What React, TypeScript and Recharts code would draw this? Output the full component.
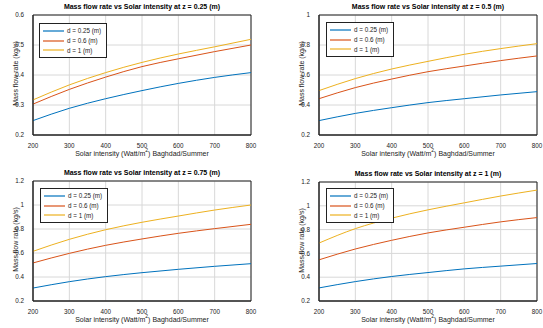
import React from 'react';
import { LineChart, Line, XAxis, YAxis, CartesianGrid, ReferenceArea } from 'recharts';

const solar = [200, 300, 400, 500, 600, 700, 800];
const xTicks = [200, 300, 400, 500, 600, 700, 800];

// z = 0.25 m
const z025d025 = [0.248, 0.289, 0.321, 0.348, 0.372, 0.392, 0.408];
const z025d06 = [0.303, 0.352, 0.393, 0.428, 0.454, 0.478, 0.5];
const z025d1 = [0.317, 0.367, 0.408, 0.442, 0.47, 0.494, 0.519];

// z = 0.5 m
const z05d025 = [0.296, 0.344, 0.382, 0.416, 0.442, 0.467, 0.489];
const z05d06 = [0.442, 0.516, 0.573, 0.622, 0.66, 0.696, 0.727];
const z05d1 = [0.496, 0.576, 0.64, 0.691, 0.738, 0.776, 0.809];

// z = 0.75 m
const z075d025 = [0.308, 0.361, 0.403, 0.436, 0.464, 0.489, 0.511];
const z075d06 = [0.517, 0.597, 0.664, 0.717, 0.764, 0.803, 0.839];
const z075d1 = [0.614, 0.714, 0.794, 0.856, 0.908, 0.958, 1.0];

// z = 1 m
const z1d025 = [0.31, 0.363, 0.406, 0.439, 0.47, 0.493, 0.515];
const z1d06 = [0.546, 0.637, 0.71, 0.772, 0.82, 0.865, 0.901];
const z1d1 = [0.687, 0.808, 0.896, 0.966, 1.025, 1.082, 1.132];

const seriesNames = ['d = 0.25 (m)', 'd = 0.6 (m)', 'd = 1 (m)'];
const colors = ['#0072BD', '#D95319', '#EDB120'];

const FONT = 'Arial, "Liberation Sans", Helvetica, sans-serif';

const buildRows = (a: number[], b: number[], c: number[]) =>
  solar.map((s, i) => ({ solar: s, a: a[i], b: b[i], c: c[i] }));

// legend drawn over the plot, MATLAB style box
const LegendBox = ({ left, top }: { left: number; top: number }) => (
  <div
    style={{
      position: 'absolute', left, top, border: '1px solid #222', background: '#fff',
      padding: '2px 5px 2px 3px', fontFamily: FONT, fontSize: 6.3, color: '#222',
    }}
  >
    {seriesNames.map((name, i) => (
      <div key={name} style={{ display: 'flex', alignItems: 'center', height: 9.8 }}>
        <svg width={21} height={4} style={{ marginRight: 3 }}>
          <line x1={0} y1={2} x2={21} y2={2} stroke={colors[i]} strokeWidth={1.2} />
        </svg>
        <span>{name}</span>
      </div>
    ))}
  </div>
);

interface PanelProps {
  left: number;
  top: number;
  width: number;
  plotLeft: number;
  plotRight: number;
  plotTop: number;
  plotBottom: number;
  title: string;
  data: any[];
  yDomain: [number, number];
  yTicks: number[];
  legendLeft: number;
  legendTop: number;
}

const Panel: React.FC<PanelProps> = (p) => {
  const height = 164;
  const plotW = p.plotRight - p.plotLeft;
  const cx = p.plotLeft + plotW / 2;
  const cy = (p.plotTop + p.plotBottom) / 2;
  return (
    <div style={{ position: 'absolute', left: p.left, top: p.top, width: p.width, height }}>
      <LineChart
        width={p.width}
        height={height}
        data={p.data}
        margin={{ top: p.plotTop, right: p.width - p.plotRight, bottom: height - p.plotBottom - 12, left: p.plotLeft - 33 }}
      >
        <CartesianGrid stroke="#d8d8d8" strokeWidth={1} />
        <XAxis
          dataKey="solar"
          type="number"
          domain={[200, 800]}
          ticks={xTicks}
          height={12}
          tickLine={false}
          axisLine={{ stroke: '#222', strokeWidth: 1 }}
          tick={{ fontSize: 6.3, fill: '#222', fontFamily: FONT }}
          tickMargin={3}
        />
        <YAxis
          type="number"
          domain={p.yDomain}
          ticks={p.yTicks}
          width={33}
          tickLine={false}
          axisLine={{ stroke: '#222', strokeWidth: 1 }}
          tick={{ fontSize: 6.3, fill: '#222', fontFamily: FONT }}
          tickMargin={3}
          allowDataOverflow
        />
        <ReferenceArea
          x1={200}
          x2={800}
          y1={p.yDomain[0]}
          y2={p.yDomain[1]}
          fill="none"
          fillOpacity={0}
          stroke="#222"
          strokeWidth={1}
          ifOverflow="visible"
        />
        {['a', 'b', 'c'].map((k, i) => (
          <Line
            key={k}
            type="monotone"
            dataKey={k}
            name={seriesNames[i]}
            stroke={colors[i]}
            strokeWidth={1}
            dot={false}
            isAnimationActive={false}
          />
        ))}
      </LineChart>
      <LegendBox left={p.legendLeft} top={p.legendTop} />
      <div
        style={{
          position: 'absolute', left: cx - 120, width: 240, top: p.plotTop - 12, textAlign: 'center',
          fontFamily: FONT, fontSize: 7, fontWeight: 'bold', color: '#000', whiteSpace: 'nowrap',
        }}
      >
        {p.title}
      </div>
      <div
        style={{
          position: 'absolute', left: cx - 100, width: 200, top: p.plotBottom + 15, textAlign: 'center',
          fontFamily: FONT, fontSize: 7, color: '#222', whiteSpace: 'nowrap',
        }}
      >
        Solar intensity (Watt/m<sup style={{ fontSize: 5, verticalAlign: 'top', lineHeight: 0 }}>2</sup>) Baghdad/Summer
      </div>
      <div
        style={{
          position: 'absolute', left: p.plotLeft - 18 - 50, width: 100, top: cy - 5, textAlign: 'center',
          fontFamily: FONT, fontSize: 7, color: '#222', whiteSpace: 'nowrap', transform: 'rotate(-90deg)',
        }}
      >
        Mass flow rate (kg/s)
      </div>
    </div>
  );
};

export default function App() {
  return (
    <div style={{ position: 'absolute', left: 0, top: 0, width: 543, height: 328, background: '#fff', overflow: 'hidden' }}>
      <Panel
        left={0} top={0} width={272} plotLeft={33} plotRight={251} plotTop={15} plotBottom={135}
        title="Mass flow rate vs Solar intensity at z = 0.25 (m)"
        data={buildRows(z025d025, z025d06, z025d1)}
        yDomain={[0.2, 0.6]} yTicks={[0.2, 0.3, 0.4, 0.5, 0.6]}
        legendLeft={39} legendTop={23}
      />
      <Panel
        left={272} top={0} width={271} plotLeft={47} plotRight={265} plotTop={15} plotBottom={135}
        title="Mass flow rate vs Solar intensity at z = 0.5 (m)"
        data={buildRows(z05d025, z05d06, z05d1)}
        yDomain={[0.2, 1]} yTicks={[0.2, 0.4, 0.6, 0.8, 1]}
        legendLeft={54} legendTop={22}
      />
      <Panel
        left={0} top={164} width={272} plotLeft={33} plotRight={251} plotTop={17} plotBottom={137}
        title="Mass flow rate vs Solar intensity at z = 0.75 (m)"
        data={buildRows(z075d025, z075d06, z075d1)}
        yDomain={[0.2, 1.2]} yTicks={[0.2, 0.4, 0.6, 0.8, 1, 1.2]}
        legendLeft={40} legendTop={24}
      />
      <Panel
        left={272} top={164} width={271} plotLeft={47} plotRight={265} plotTop={18} plotBottom={137}
        title="Mass flow rate vs Solar intensity at z = 1 (m)"
        data={buildRows(z1d025, z1d06, z1d1)}
        yDomain={[0.2, 1.2]} yTicks={[0.2, 0.4, 0.6, 0.8, 1, 1.2]}
        legendLeft={54} legendTop={24}
      />
    </div>
  );
}
